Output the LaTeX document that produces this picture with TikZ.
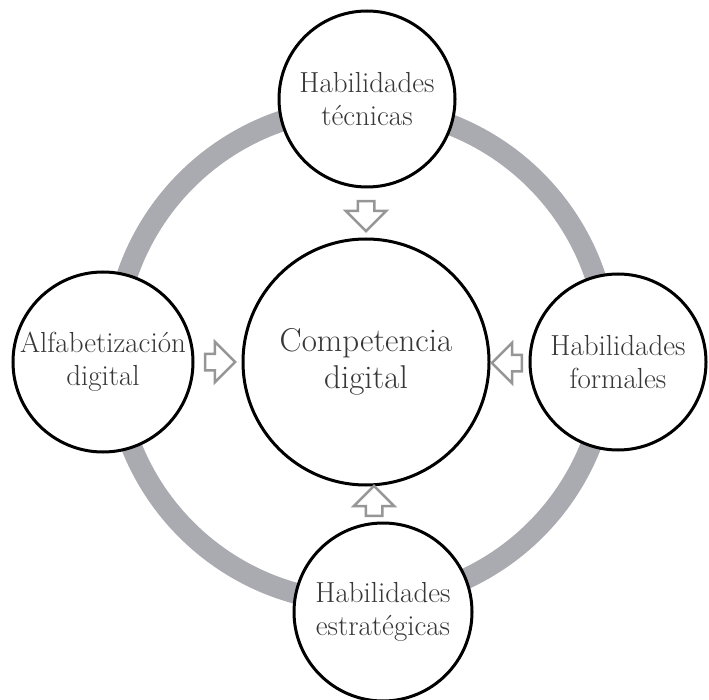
\documentclass[tikz,border=0pt]{standalone}
\usetikzlibrary{shapes.arrows}
\definecolor{ringgray}{RGB}{170,170,177}
\definecolor{arrowgray}{RGB}{150,150,150}
\definecolor{txtgray}{RGB}{55,55,55}
\tikzset{
  skill/.style={circle, draw=black, line width=3pt, fill=white, text=txtgray,
                inner sep=0pt, align=center, minimum size=176pt,
                font=\fontsize{29}{33}\selectfont},
  core/.style={skill, minimum size=246pt, font=\fontsize{33}{37}\selectfont},
  flow/.style={single arrow, draw=arrowgray, line width=2.5pt, fill=white,
               inner sep=7pt, single arrow head extend=12pt,
               minimum height=30pt},
}
\begin{document}
\begin{tikzpicture}[x=1pt, y=-1pt]
    \useasboundingbox (0,0) rectangle (709,700);
    % gray ring behind the circles
    \draw[ringgray, line width=21pt] (361,355) circle[radius=247];
    \node[core]  (comp) at (366,362) {Competencia\\digital};
    \node[skill] (tec)  at (367,99)  {Habilidades\\técnicas};
    \node[skill, minimum size=180pt] (alf) at (103,362) {Alfabetización\\digital};
    \node[skill] (form) at (618,362) {Habilidades\\formales};
    \node[skill, minimum size=178pt] (estr) at (383,612) {Habilidades\\estratégicas};
    % block arrows towards the centre
    \node[flow, rotate=-90] (atec)  at (366,212) {};
    \node[flow]             (aalf)  at (216,362) {};
    \node[flow, rotate=180] (aform) at (511,363) {};
    \node[flow, rotate=90]  (aestr) at (374,505) {};
\end{tikzpicture}
\end{document}
